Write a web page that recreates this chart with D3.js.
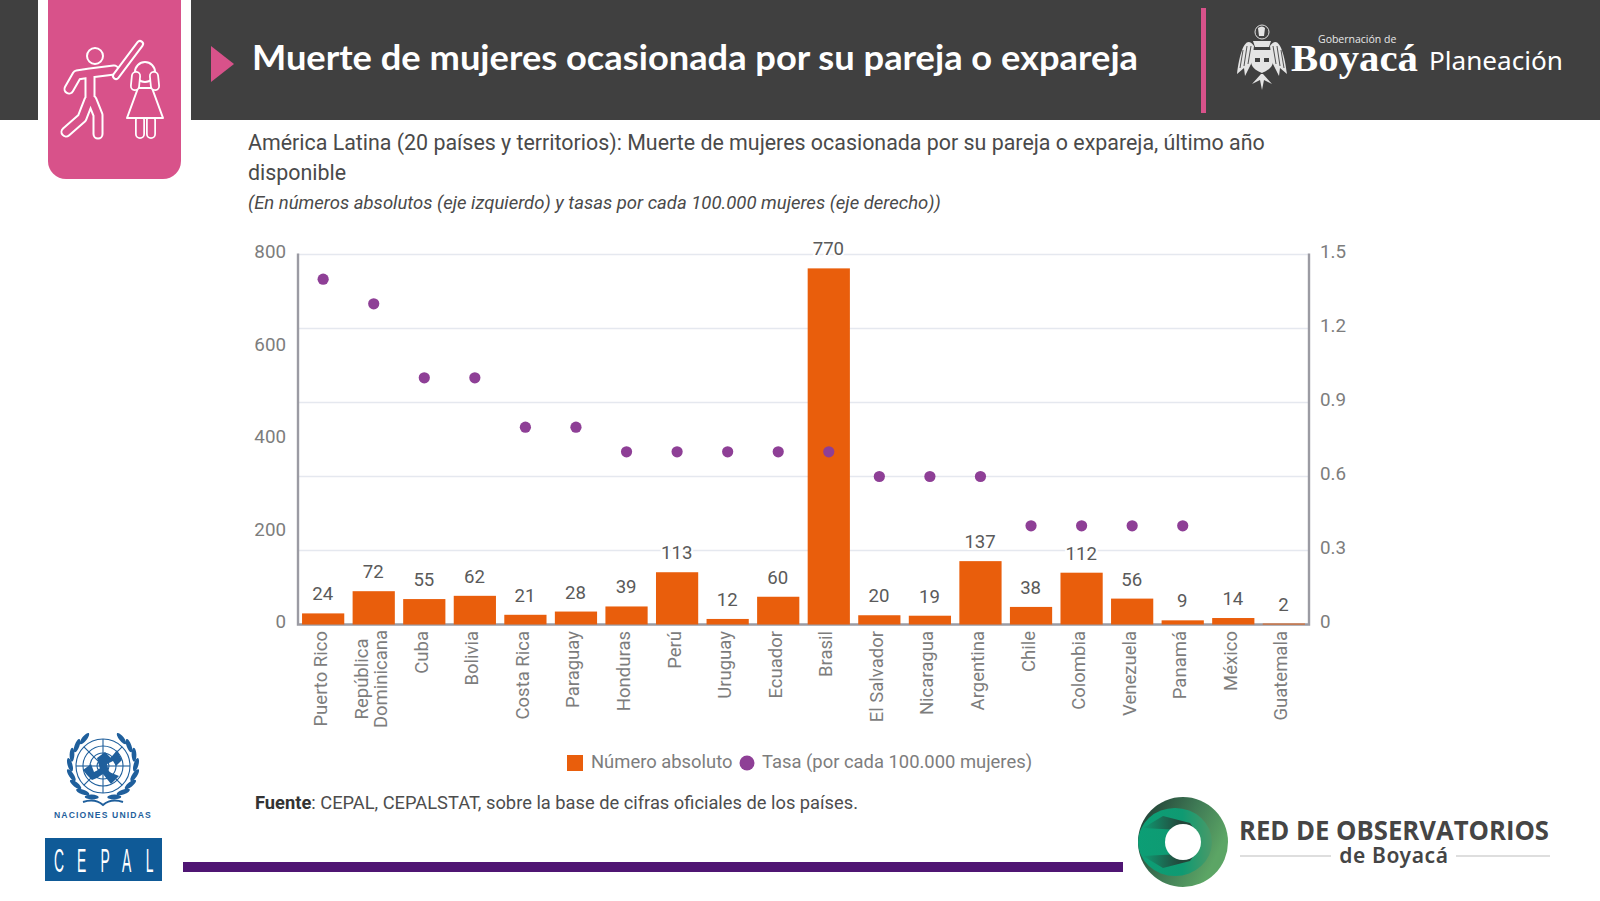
<!DOCTYPE html>
<html lang="es">
<head>
<meta charset="utf-8">
<title>Muerte de mujeres ocasionada por su pareja o expareja</title>
<script src="https://cdn.jsdelivr.net/npm/d3@7/dist/d3.min.js"></script>
<style>
  html, body { margin: 0; padding: 0; background: #fff; }
  svg { display: block; }
  text { font-family: Roboto, sans-serif; }
</style>
</head>
<body>
<svg id="slide" width="1600" height="901" viewBox="0 0 1600 901"></svg>
<script>
// Chart data
const countries = ["Puerto Rico", "República Dominicana", "Cuba", "Bolivia", "Costa Rica", "Paraguay", "Honduras", "Perú", "Uruguay", "Ecuador", "Brasil", "El Salvador", "Nicaragua", "Argentina", "Chile", "Colombia", "Venezuela", "Panamá", "México", "Guatemala"];
const absolutes = [24, 72, 55, 62, 21, 28, 39, 113, 12, 60, 770, 20, 19, 137, 38, 112, 56, 9, 14, 2];
const rates = [1.4, 1.3, 1.0, 1.0, 0.8, 0.8, 0.7, 0.7, 0.7, 0.7, 0.7, 0.6, 0.6, 0.6, 0.4, 0.4, 0.4, 0.4, null, null];
const leftTicks = [0, 200, 400, 600, 800];
const rightTicks = [0, 0.3, 0.6, 0.9, 1.2, 1.5];

const DARK = "#404040", PINK = "#d8528a", PURPLE = "#4f1573", ORANGE = "#e95e0c", DOT = "#8e3f96";
const AXIS = "#9b9ba3", GRID = "#e5e8ef", TICK = "#7d7d7d", INK = "#4a4a4a", UNBLUE = "#1f5f9c";

const svg = d3.select("#slide");
svg.append("rect").attr("width", 1600).attr("height", 901).attr("fill", "#fff");

// ---------- Header band ----------
const header = svg.append("g");
header.append("rect").attr("x", 0).attr("y", 0).attr("width", 38).attr("height", 120).attr("fill", DARK);
header.append("rect").attr("x", 191).attr("y", 0).attr("width", 1409).attr("height", 120).attr("fill", DARK);
header.append("path").attr("fill", PINK)
  .attr("d", "M48,0H181V161a18,18 0 0 1 -18,18H66a18,18 0 0 1 -18,-18Z");
header.append("path").attr("fill", PINK).attr("d", "M211,46L234,64L211,82Z");
header.append("text").attr("x", 252).attr("y", 70)
  .attr("fill", "#fff").attr("font-size", 34).attr("font-weight", 700)
  .style("font-family", "Lato, sans-serif")
  .attr("textLength", 886).attr("lengthAdjust", "spacingAndGlyphs")
  .text("Muerte de mujeres ocasionada por su pareja o expareja");
header.append("rect").attr("x", 1201).attr("y", 8).attr("width", 5).attr("height", 105).attr("fill", PINK);

// Pictogram: outlined limbs are a wide white stroke under a narrower pink one
const icon = header.append("g").attr("fill", "none").attr("stroke-linecap", "round").attr("stroke-linejoin", "round");
const manPath = "M90,73L114,70M90,73L77,75L69,89M90,73L90,100M89,100L82,118L66,132M92,100L98,115L98,134";
const batPath = "M116,76L140,44";
icon.append("path").attr("d", manPath).attr("stroke", "#fff").attr("stroke-width", 11);
icon.append("path").attr("d", manPath).attr("stroke", PINK).attr("stroke-width", 7);
icon.append("path").attr("d", batPath).attr("stroke", "#fff").attr("stroke-width", 8);
icon.append("path").attr("d", batPath).attr("stroke", PINK).attr("stroke-width", 4);
icon.append("circle").attr("cx", 95).attr("cy", 56).attr("r", 8).attr("stroke", "#fff").attr("stroke-width", 2);
const legsPath = "M140,120V134M151,120V134";
icon.append("path").attr("d", legsPath).attr("stroke", "#fff").attr("stroke-width", 10);
icon.append("path").attr("d", legsPath).attr("stroke", PINK).attr("stroke-width", 6.5);
icon.append("path").attr("d", "M127,118H163L152,88H138Z").attr("stroke", "#fff").attr("stroke-width", 2).attr("fill", PINK);
icon.append("circle").attr("cx", 145).attr("cy", 72).attr("r", 10).attr("stroke", "#fff").attr("stroke-width", 2).attr("fill", PINK);
const armsPath = "M135,86L136,76M155,86L154,76";
icon.append("path").attr("d", armsPath).attr("stroke", "#fff").attr("stroke-width", 10);
icon.append("path").attr("d", armsPath).attr("stroke", PINK).attr("stroke-width", 6.5);

// Boyacá crest
const crest = header.append("g").attr("fill", "#e4e4e4");
crest.append("circle").attr("cx", 1262).attr("cy", 32).attr("r", 7).attr("fill", "none").attr("stroke", "#ddd").attr("stroke-width", 1);
crest.append("path").attr("d", "M1258,28q4,-3 7,0l-1,8h-5Z");
crest.append("path").attr("d", "M1254,46C1246,34 1240,50 1237,74L1244,68L1245,76L1252,62Z");
crest.append("path").attr("d", "M1270,46C1278,34 1284,50 1287,74L1280,68L1279,76L1272,62Z");
crest.append("path").attr("d", "M1243,50L1240,68M1247,46L1244,66M1251,46L1248,64M1281,50L1284,68M1277,46L1280,66M1273,46L1276,64")
  .attr("fill", "none").attr("stroke", DARK).attr("stroke-width", 0.9);
crest.append("path").attr("d", "M1253,41H1271L1269,47H1255Z");
crest.append("path").attr("d", "M1253,50H1271L1273,62C1272,69 1266,71 1262,73C1258,71 1252,69 1251,62Z");
crest.append("path").attr("d", "M1252,84L1261,74H1263L1272,84L1264,80L1262,90L1260,80Z");
crest.append("path").attr("fill", DARK).attr("d", "M1255,58h5v4h-5ZM1264,58h5v4h-5Z");

header.append("text").attr("x", 1318).attr("y", 43).attr("fill", "#e8e8e8").attr("font-size", 10.5)
  .style("font-family", "'Open Sans', sans-serif").text("Gobernación de");
header.append("text").attr("x", 1291).attr("y", 71).attr("fill", "#fff").attr("font-size", 38).attr("font-weight", 700)
  .style("font-family", "'Liberation Serif', serif").attr("textLength", 127).attr("lengthAdjust", "spacingAndGlyphs").text("Boyacá");
header.append("text").attr("x", 1429).attr("y", 70).attr("fill", "#fff").attr("font-size", 25)
  .style("font-family", "'Noto Sans', sans-serif").attr("textLength", 134).attr("lengthAdjust", "spacingAndGlyphs").text("Planeación");

// ---------- Chart headings ----------
const headings = svg.append("g").attr("fill", INK);
headings.append("text").attr("x", 248).attr("y", 150).attr("font-size", 21.4)
  .text("América Latina (20 países y territorios): Muerte de mujeres ocasionada por su pareja o expareja, último año");
headings.append("text").attr("x", 248).attr("y", 180).attr("font-size", 21.4).text("disponible");
headings.append("text").attr("x", 248).attr("y", 209).attr("font-size", 18.5).attr("font-style", "italic")
  .text("(En números absolutos (eje izquierdo) y tasas por cada 100.000 mujeres (eje derecho))");

// ---------- Scales ----------
const plot = { left: 298, right: 1309, top: 254.5, bottom: 624.5 };
const x = d3.scaleBand().domain(countries).range([plot.left, plot.right]).paddingInner(0.165).paddingOuter(0.08);
const yLeft = d3.scaleLinear().domain([0, 800]).range([plot.bottom, plot.top]);
const yRight = d3.scaleLinear().domain([0, 1.5]).range([plot.bottom, plot.top]);
const center = c => x(c) + x.bandwidth() / 2;

// Gridlines follow the right-hand scale
svg.append("g").selectAll("line").data(rightTicks.slice(1)).join("line")
  .attr("x1", plot.left).attr("x2", plot.right)
  .attr("y1", d => yRight(d)).attr("y2", d => yRight(d))
  .attr("stroke", GRID).attr("stroke-width", 1.5);

// Axis rules
const rules = svg.append("g").attr("stroke", AXIS).attr("stroke-width", 2.4).attr("fill", "none");
rules.append("path").attr("d", `M${plot.left},${plot.top - 1}V${plot.bottom}H${plot.right}V${plot.top - 1}`);

// Axes: labels only, the rules above supply the lines
const styleAxis = g => {
  g.select(".domain").remove();
  g.selectAll(".tick line").remove();
  g.selectAll(".tick text").attr("fill", TICK).attr("font-size", 18.8).style("font-family", "Roboto, sans-serif").attr("dy", "0.18em");
};
svg.append("g").attr("transform", `translate(${plot.left},0)`)
  .call(d3.axisLeft(yLeft).tickValues(leftTicks).tickSize(0).tickPadding(12)).call(styleAxis);
svg.append("g").attr("transform", `translate(${plot.right},0)`)
  .call(d3.axisRight(yRight).tickValues(rightTicks).tickFormat(d => d === 0 ? "0" : d3.format(".1f")(d)).tickSize(0).tickPadding(11)).call(styleAxis);

// Bars
svg.append("g").selectAll("rect").data(countries).join("rect")
  .attr("x", d => x(d)).attr("width", x.bandwidth())
  .attr("y", (d, i) => yLeft(absolutes[i]))
  .attr("height", (d, i) => yLeft(0) - yLeft(absolutes[i]))
  .attr("fill", ORANGE);

// Rate dots
svg.append("g").selectAll("circle")
  .data(countries.map((c, i) => ({ c, r: rates[i] })).filter(d => d.r !== null)).join("circle")
  .attr("cx", d => center(d.c)).attr("cy", d => yRight(d.r)).attr("r", 5.6).attr("fill", DOT);

// Value labels, haloed so gridlines break around them
svg.append("g").selectAll("text").data(countries).join("text")
  .attr("x", d => center(d) - 0.4).attr("y", (d, i) => yLeft(absolutes[i]) - 13)
  .attr("text-anchor", "middle").attr("font-size", 18.6).attr("fill", "#5a5a5a")
  .attr("stroke", "#fff").attr("stroke-width", 4).style("paint-order", "stroke")
  .text((d, i) => absolutes[i]);

// Rotated country labels; the long name wraps on two lines
const wrapped = { "República Dominicana": ["República", "Dominicana"] };
const catLabels = svg.append("g").attr("fill", TICK).attr("font-size", 18.5);
countries.forEach(c => {
  const lines = wrapped[c] || [c];
  const two = lines.length === 2;
  const offs = two ? [-12, 7] : [-2.5];
  lines.forEach((t, j) => {
    catLabels.append("text")
      .attr("transform", `translate(${center(c) + offs[j] + 6},631) rotate(-90)`)
      .attr("text-anchor", two ? "middle" : "end")
      .attr("x", two ? -48 : 0)
      .text(t);
  });
});

// Legend
const legend = svg.append("g").attr("font-size", 18.4).attr("fill", TICK);
legend.append("rect").attr("x", 567).attr("y", 755).attr("width", 16).attr("height", 16).attr("fill", ORANGE);
legend.append("text").attr("x", 591).attr("y", 768).text("Número absoluto");
legend.append("circle").attr("cx", 747).attr("cy", 763).attr("r", 7.5).attr("fill", DOT);
legend.append("text").attr("x", 762).attr("y", 768).text("Tasa (por cada 100.000 mujeres)");

// Source line
const source = svg.append("text").attr("x", 255).attr("y", 809).attr("font-size", 18.3).attr("fill", "#4d4d4d");
source.append("tspan").attr("font-weight", 700).attr("fill", "#333").text("Fuente");
source.append("tspan").text(": CEPAL, CEPALSTAT, sobre la base de cifras oficiales de los países.");

// ---------- Footer ----------
svg.append("rect").attr("x", 183).attr("y", 862).attr("width", 940).attr("height", 10).attr("fill", PURPLE);

// United Nations emblem: globe inside an open laurel wreath
const un = svg.append("g").attr("transform", "translate(103,766)");
const globe = un.append("g").attr("fill", "none").attr("stroke", UNBLUE).attr("stroke-width", 1.1);
[27, 20, 13, 6].forEach(r => globe.append("circle").attr("r", r));
d3.range(8).forEach(i => {
  const a = i * Math.PI / 4;
  globe.append("line").attr("x2", 27 * Math.cos(a)).attr("y2", 27 * Math.sin(a));
});
un.append("path").attr("fill", UNBLUE)
  .attr("d", "M-20,4L-12,-2L-9,6L-3,3L-6,-8L2,-14L8,-8L14,-16L19,-6L13,0L10,-5L4,-2L6,6L16,10L8,18L0,8L-6,12L-11,14L-16,9Z");
[-1, 1].forEach(s => {
  d3.range(8).forEach(i => {
    const deg = 20 + i * 18;
    const a = deg * Math.PI / 180;
    const px = s * 33 * Math.sin(a), py = 33 * Math.cos(a);
    un.append("ellipse").attr("cx", px.toFixed(1)).attr("cy", py.toFixed(1)).attr("rx", 2.4).attr("ry", 7)
      .attr("transform", `rotate(${(s * (90 - deg + 18)).toFixed(1)},${px.toFixed(1)},${py.toFixed(1)})`)
      .attr("fill", UNBLUE);
  });
});
un.append("path").attr("fill", "none").attr("stroke", UNBLUE).attr("stroke-width", 2)
  .attr("d", "M-20,36Q-8,32 0,39Q8,32 20,36");
svg.append("text").attr("x", 103).attr("y", 818).attr("text-anchor", "middle")
  .attr("fill", UNBLUE).attr("font-size", 8.6).attr("font-weight", 700).attr("letter-spacing", 1.15)
  .style("font-family", "'Liberation Sans', sans-serif").text("NACIONES UNIDAS");

// CEPAL plate
const plateX = [59, 81.5, 105, 126.5, 149.5];
svg.append("rect").attr("x", 45).attr("y", 838).attr("width", 117).attr("height", 43).attr("fill", "#0f5a97");
svg.append("g").selectAll("text").data(["C", "E", "P", "A", "L"]).join("text")
  .attr("y", 872).attr("text-anchor", "middle")
  .attr("fill", "#fff").attr("font-size", 33)
  .attr("transform", (d, i) => `translate(${plateX[i]},0) scale(0.42,1)`)
  .style("font-family", "'Liberation Sans', sans-serif")
  .text(d => d);

// Observatory network ring
const defs = svg.append("defs");
const ringOuter = defs.append("linearGradient").attr("id", "ringOuter").attr("x1", "0.2").attr("x2", "1").attr("y1", "0").attr("y2", "0.4");
ringOuter.append("stop").attr("offset", "0").attr("stop-color", "#26493b");
ringOuter.append("stop").attr("offset", "0.5").attr("stop-color", "#3f7a55");
ringOuter.append("stop").attr("offset", "1").attr("stop-color", "#5ca565");
const ringMid = defs.append("linearGradient").attr("id", "ringMid").attr("x1", "0").attr("x2", "1").attr("y1", "0.5").attr("y2", "0.5");
ringMid.append("stop").attr("offset", "0").attr("stop-color", "#0c9e75");
ringMid.append("stop").attr("offset", "0.6").attr("stop-color", "#0f9a72");
ringMid.append("stop").attr("offset", "1").attr("stop-color", "#4a9a68");
const ringCone = defs.append("linearGradient").attr("id", "ringCone").attr("x1", "0").attr("x2", "1").attr("y1", "0.5").attr("y2", "0.5");
ringCone.append("stop").attr("offset", "0").attr("stop-color", "#0f9a72");
ringCone.append("stop").attr("offset", "0.7").attr("stop-color", "#24463a");
const ring = svg.append("g");
ring.append("circle").attr("cx", 1183).attr("cy", 842).attr("r", 45).attr("fill", "url(#ringOuter)");
ring.append("ellipse").attr("cx", 1175).attr("cy", 842).attr("rx", 37).attr("ry", 34).attr("fill", "url(#ringMid)");
ring.append("path").attr("fill", "url(#ringCone)").attr("d", "M1143,828L1163,816L1190,823L1197,833L1180,830Z");
ring.append("path").attr("fill", "url(#ringCone)").attr("d", "M1143,856L1163,868L1190,861L1197,851L1180,854Z");
ring.append("circle").attr("cx", 1183).attr("cy", 842).attr("r", 18).attr("fill", "#fff");

const network = svg.append("g").attr("fill", "#454545").attr("font-weight", 700);
network.append("text").attr("x", 1239).attr("y", 840).attr("font-size", 26).style("font-family", "'Open Sans', sans-serif")
  .attr("textLength", 310).attr("lengthAdjust", "spacingAndGlyphs").text("RED DE OBSERVATORIOS");
network.append("text").attr("x", 1394).attr("y", 863).attr("font-size", 21).attr("text-anchor", "middle").attr("letter-spacing", 0.6)
  .style("font-family", "'Noto Sans', sans-serif").attr("font-weight", 600).text("de Boyacá");
network.append("path").attr("d", "M1240,856H1331M1456,856H1550").attr("stroke", "#bdbdbd").attr("stroke-width", 1.2);
</script>
</body>
</html>
